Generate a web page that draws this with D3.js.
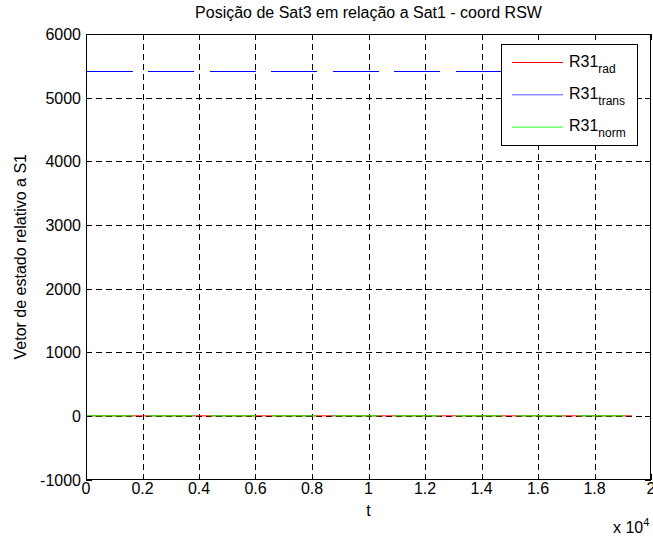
<!DOCTYPE html>
<html lang="pt">
  <head>
    <meta charset="UTF-8" />
    <title>Posição de Sat3 em relação a Sat1</title>
    <style>
      body {
        margin: 0;
        background: #fff;
      }
      text {
        font-family: "Liberation Sans", Arial, Helvetica, sans-serif;
        font-size: 16px;
        fill: #000;
      }
    </style>
  </head>
  <body>
    <svg id="chart"></svg>
    <script src="https://cdnjs.cloudflare.com/ajax/libs/d3/7.4.4/d3.min.js"></script>
    <script>
      // tick values / labels
      const xTicks = [0, 2000, 4000, 6000, 8000, 10000, 12000, 14000, 16000, 18000, 20000];
      const xTickLabels = ["0", "0.2", "0.4", "0.6", "0.8", "1", "1.2", "1.4", "1.6", "1.8", "2"];
      const yTicks = [-1000, 0, 1000, 2000, 3000, 4000, 5000, 6000];

      // time intervals where trans / norm exist (gaps between them)
      const segStart = [0, 2200, 4390, 6560, 8750, 10910, 13100, 15250, 17430];
      const segEnd = [1650, 3830, 6010, 8180, 10370, 12530, 14730, 16890, 19080];
      const tLast = 19320;

      const radValue = 0;
      const transValue = 5418;
      const normValue = 0;

      const seriesNames = ["rad", "trans", "norm"];
      const seriesColors = ["#ff0000", "#0000ff", "#00ff00"];
      const legendColors = ["#ff0000", "#5555ff", "#22ff22"];

      const W = 653, H = 536;
      const mL = 86, mR = 651, mT = 34, mB = 479.5;

      const svg = d3.select("#chart").attr("width", W).attr("height", H);

      const x = d3.scaleLinear().domain([0, 20000]).range([mL, mR]);
      const y = d3.scaleLinear().domain([-1000, 6000]).range([mB, mT]);

      // build series with NaN breaks
      function segmented(v) {
        const pts = [];
        segStart.forEach((s, i) => {
          pts.push([s, v], [segEnd[i], v], [segEnd[i], NaN]);
        });
        return pts;
      }
      const radData = [[0, radValue], [tLast, radValue]];
      const transData = segmented(transValue);
      const normData = segmented(normValue);

      // grid
      const grid = svg.append("g").attr("shape-rendering", "crispEdges");
      grid
        .selectAll("line.gx")
        .data(xTicks.slice(1, -1))
        .join("line")
        .attr("x1", (d) => Math.round(x(d)) + 0.5)
        .attr("x2", (d) => Math.round(x(d)) + 0.5)
        .attr("y1", mT)
        .attr("y2", mB)
        .attr("stroke", "#000")
        .attr("stroke-dasharray", "6,4");
      grid
        .selectAll("line.gy")
        .data(yTicks.slice(1, -1))
        .join("line")
        .attr("y1", (d) => Math.round(y(d)) + 0.5)
        .attr("y2", (d) => Math.round(y(d)) + 0.5)
        .attr("x1", mL)
        .attr("x2", mR)
        .attr("stroke", "#000")
        .attr("stroke-dasharray", "6,4");

      // lines
      const line = d3
        .line()
        .defined((d) => !isNaN(d[1]))
        .x((d) => x(d[0]))
        .y((d) => y(d[1]));

      [radData, transData, normData].forEach((data, i) => {
        svg
          .append("path")
          .datum(data)
          .attr("fill", "none")
          .attr("stroke", seriesColors[i])
          .attr("stroke-width", 1)
          .attr("shape-rendering", i === 1 ? "crispEdges" : null)
          .attr("d", line);
      });

      // axes box + ticks (inside, all four sides)
      const ax = svg.append("g").attr("shape-rendering", "crispEdges");
      ax.append("rect")
        .attr("x", mL + 0.5)
        .attr("y", mT + 0.5)
        .attr("width", mR - mL - 1)
        .attr("height", mB - mT - 1)
        .attr("fill", "none")
        .attr("stroke", "#000");

      const tl = 6;
      xTicks.forEach((t) => {
        const px = Math.round(x(t)) + 0.5;
        ax.append("line").attr("x1", px).attr("x2", px).attr("y1", mB).attr("y2", mB - tl).attr("stroke", "#000");
        ax.append("line").attr("x1", px).attr("x2", px).attr("y1", mT).attr("y2", mT + tl).attr("stroke", "#000");
      });
      yTicks.forEach((t) => {
        const py = Math.round(y(t)) + 0.5;
        ax.append("line").attr("y1", py).attr("y2", py).attr("x1", mL).attr("x2", mL + tl).attr("stroke", "#000");
        ax.append("line").attr("y1", py).attr("y2", py).attr("x1", mR).attr("x2", mR - tl).attr("stroke", "#000");
      });

      // tick labels
      svg
        .selectAll("text.xt")
        .data(xTicks)
        .join("text")
        .attr("x", (d) => x(d))
        .attr("y", 494)
        .attr("text-anchor", "middle")
        .text((d, i) => xTickLabels[i]);
      svg
        .selectAll("text.yt")
        .data(yTicks)
        .join("text")
        .attr("x", 81)
        .attr("y", (d) => y(d) + 6)
        .attr("text-anchor", "end")
        .text((d) => d);

      // exponent
      const ex = svg.append("text").attr("x", 613).attr("y", 533);
      ex.append("tspan").text("x 10");
      ex.append("tspan").attr("dy", -7).style("font-size", "11px").text("4");

      // labels
      svg.append("text").attr("x", (mL + mR) / 2).attr("y", 516).attr("text-anchor", "middle").text("t");
      svg
        .append("text")
        .attr("transform", `translate(26,${(mT + mB) / 2}) rotate(-90)`)
        .attr("text-anchor", "middle")
        .text("Vetor de estado relativo a S1");
      svg
        .append("text")
        .attr("x", (mL + mR) / 2)
        .attr("y", 18)
        .attr("text-anchor", "middle")
        .text("Posição de Sat3 em relação a Sat1 - coord RSW");

      // legend
      const lg = svg.append("g").attr("transform", "translate(501,44)");
      lg.append("rect")
        .attr("x", 0.5)
        .attr("y", 0.5)
        .attr("width", 136)
        .attr("height", 101)
        .attr("fill", "#fff")
        .attr("stroke", "#000")
        .attr("shape-rendering", "crispEdges");
      seriesNames.forEach((name, i) => {
        const ly = 18.5 + i * 32.3;
        lg.append("line")
          .attr("x1", 11)
          .attr("x2", 62)
          .attr("y1", ly)
          .attr("y2", ly)
          .attr("stroke", legendColors[i]);
        const t = lg.append("text").attr("x", 68).attr("y", ly + 4);
        t.append("tspan").text("R31");
        t.append("tspan").attr("dy", 6).style("font-size", "12px").text(name);
      });
    </script>
  </body>
</html>
